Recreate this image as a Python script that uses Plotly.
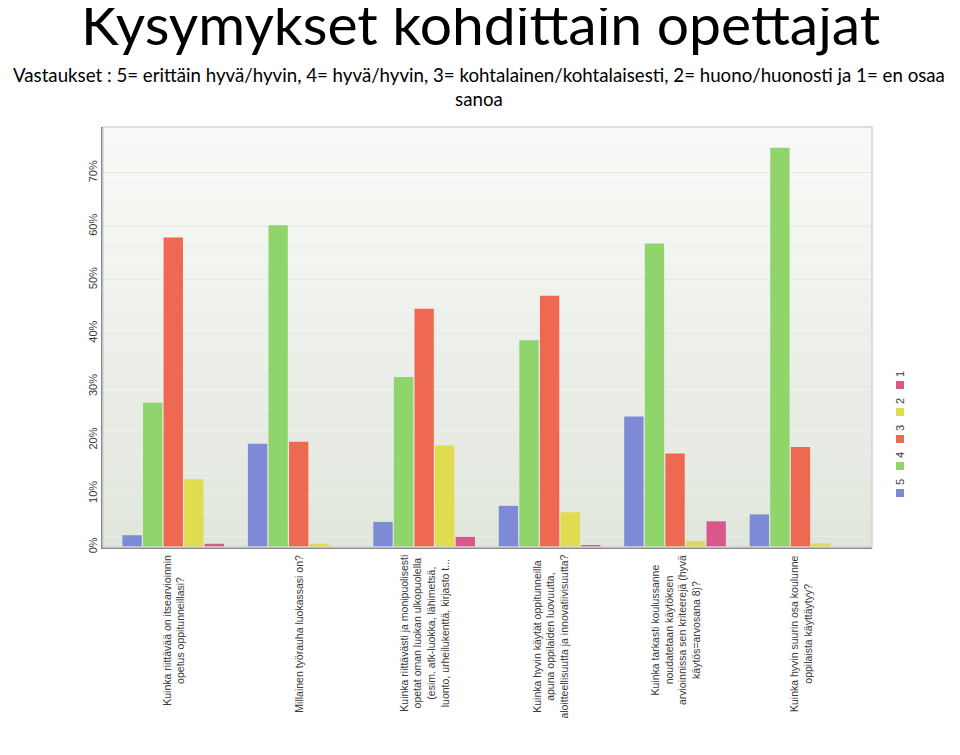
import plotly.graph_objects as go

categories = [
    "Kuinka riittävää on itsearvioinnin<br>opetus oppitunneillasi?",
    "Millainen työrauha luokassasi on?",
    "Kuinka riittävästi ja monipuolisesti<br>opetat oman luokan ulkopuolella<br>(esim. atk-luokka, lähimetsä,<br>luonto, urheilukenttä, kirjasto t...",
    "Kuinka hyvin käytät oppitunneilla<br>apuna oppilaiden luovuutta,<br>aloitteellisuutta ja innovatiivisuutta?",
    "Kuinka tarkasti koulussanne<br>noudatetaan käytöksen<br>arvioinnissa sen kriteerejä (hyvä<br>käytös=arvosana 8)?",
    "Kuinka hyvin suurin osa koulunne<br>oppilaista käyttäytyy?",
]
series_names = ["5", "4", "3", "2", "1"]
values_5 = [2.2, 19.3, 4.7, 7.7, 24.4, 6.1]
values_4 = [27.0, 60.2, 31.8, 38.7, 56.8, 74.7]
values_3 = [57.9, 19.7, 44.6, 47.0, 17.5, 18.7]
values_2 = [12.7, 0.6, 19.0, 6.5, 1.1, 0.7]
values_1 = [0.6, 0.0, 1.9, 0.3, 4.8, 0.0]
y_ticks = [0, 10, 20, 30, 40, 50, 60, 70]
y_tick_labels = ["0%", "10%", "20%", "30%", "40%", "50%", "60%", "70%"]

title_text = "Kysymykset kohdittain opettajat"
subtitle_text = ("Vastaukset : 5= erittäin hyvä/hyvin, 4= hyvä/hyvin, 3= kohtalainen/kohtalaisesti, "
                 "2= huono/huonosti ja 1= en osaa<br>sanoa")

colors = ["#7d8ad6", "#8fd56b", "#ee6852", "#e0dc50", "#d8588c"]
all_values = [values_5, values_4, values_3, values_2, values_1]

fig = go.Figure()
for name, vals, col in zip(series_names, all_values, colors):
    fig.add_trace(go.Bar(
        x=categories, y=vals, name=name,
        marker=dict(color=col, line=dict(width=0)),
        showlegend=False,
    ))

# page has an 8px body margin; figure coordinates are page coordinates minus OFF
OFF = 8
W, H = 960 - OFF, 755 - OFF
L, R, T, B = 103 - OFF, 872 - OFF, 127 - OFF, 547 - OFF
plot_w = R - L
plot_h = B - T


def px(xp):
    return (xp - OFF - L) / plot_w


def py(yp):
    return (B - (yp - OFF)) / plot_h


shapes = []
nb = 40
top_c = (249, 250, 247)
bot_c = (225, 230, 221)
for i in range(nb):
    f = i / (nb - 1)
    c = tuple(round(top_c[k] + (bot_c[k] - top_c[k]) * f) for k in range(3))
    shapes.append(dict(type="rect", xref="paper", yref="paper",
                       x0=0, x1=1, y0=1 - (i + 1) / nb, y1=1 - i / nb,
                       fillcolor="rgb(%d,%d,%d)" % c, line=dict(width=0),
                       layer="below"))
shapes.append(dict(type="rect", xref="paper", yref="paper", x0=0, x1=1, y0=0, y1=1,
                   line=dict(color="#d4d4d4", width=1.5), fillcolor="rgba(0,0,0,0)",
                   layer="above"))

annotations = []
annotations.append(dict(text=title_text, xref="paper", yref="paper",
                        x=px(480), y=py(23), xanchor="center",
                        yanchor="middle", showarrow=False,
                        font=dict(family="Lato", size=57, color="#000000")))
annotations.append(dict(text=subtitle_text, xref="paper", yref="paper",
                        x=px(479), y=py(87), xanchor="center",
                        yanchor="middle", showarrow=False, align="center",
                        font=dict(family="Lato", size=18.7, color="#000000")))

for cat in categories:
    annotations.append(dict(text=cat, x=cat, xref="x", y=0, yref="paper",
                            yanchor="top", xanchor="center", yshift=-6,
                            textangle=-90, showarrow=False, align="center",
                            font=dict(family="Liberation Sans, Arial", size=10.5,
                                      color="#3a3a3a")))

leg_x = 900
leg_sq_y = [493, 466, 439, 412, 385]
leg_txt_y = [482, 455, 428, 401, 374]
for name, col, sy, ty in zip(series_names, colors, leg_sq_y, leg_txt_y):
    shapes.append(dict(type="rect", xref="paper", yref="paper",
                       x0=px(leg_x - 4), x1=px(leg_x + 4),
                       y0=py(sy + 4), y1=py(sy - 4),
                       fillcolor=col, line=dict(width=0)))
    annotations.append(dict(text=name, xref="paper", yref="paper",
                            x=px(leg_x), y=py(ty),
                            xanchor="center", yanchor="middle", textangle=-90,
                            showarrow=False,
                            font=dict(family="Liberation Sans, Arial", size=11,
                                      color="#3a3a3a")))

fig.update_layout(
    width=W, height=H,
    margin=dict(l=L, r=W - R, t=T, b=H - B, pad=0),
    paper_bgcolor="white",
    plot_bgcolor="rgba(0,0,0,0)",
    barmode="group",
    bargap=0.18,
    bargroupgap=0.06,
    shapes=shapes,
    annotations=annotations,
    xaxis=dict(showticklabels=False, showgrid=False, ticks="",
               showline=True, linecolor="#8a8a8a", linewidth=1.5,
               range=[-0.56, 5.57]),
    yaxis=dict(range=[0, 78.6], tickvals=y_ticks, ticktext=y_tick_labels,
               tickangle=-90, showgrid=True, gridcolor="#e6e8e3", gridwidth=1,
               zeroline=False, showline=True, linecolor="#8a8a8a", linewidth=1.5,
               ticks="", ticklen=0,
               tickfont=dict(family="Liberation Sans, Arial", size=11, color="#3a3a3a")),
)

fig.write_html("out.html")
